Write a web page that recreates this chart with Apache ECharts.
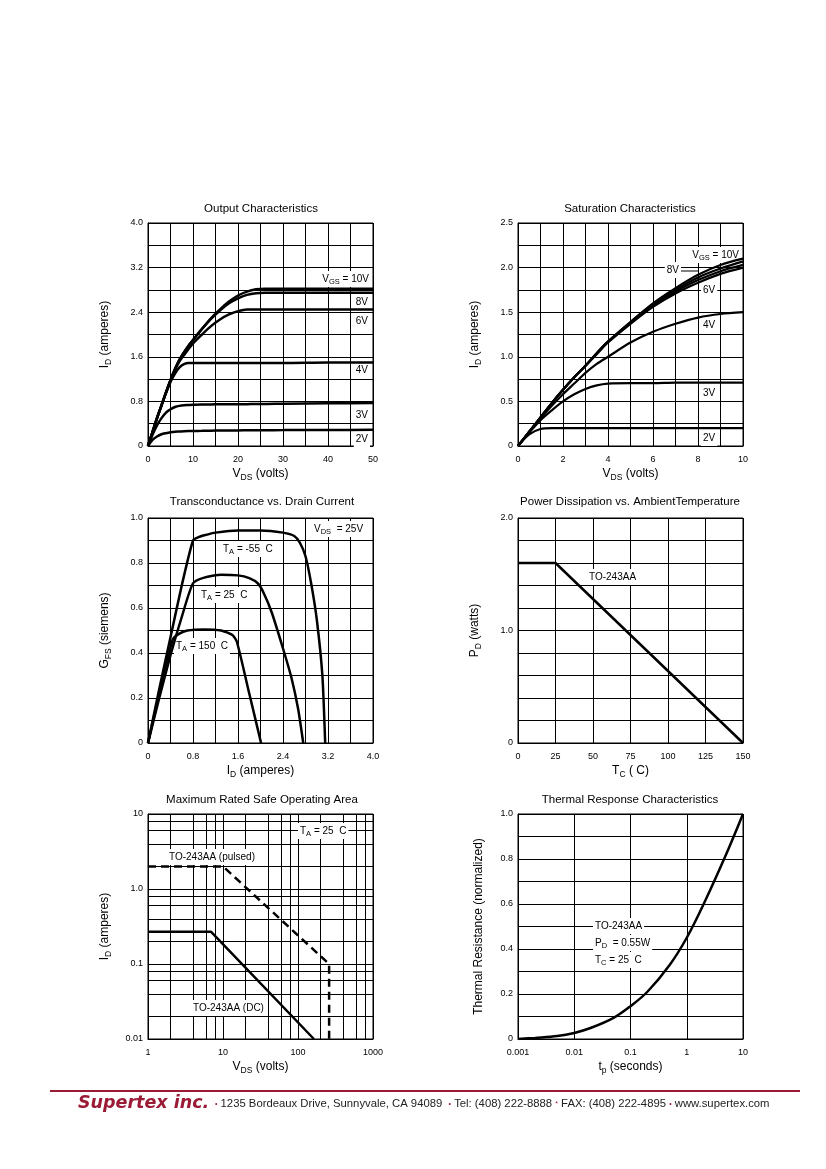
<!DOCTYPE html>
<html><head><meta charset="utf-8">
<script src="https://cdn.jsdelivr.net/npm/echarts@6/dist/echarts.min.js"></script>
<style>html,body{margin:0;padding:0;background:#fff}#c{width:826px;height:1169px}</style>
</head><body><div id="c"></div>
<script>
// ---------------- DATA ----------------
// Output Characteristics
const outVds  = [0,1,2,3,4,5,6,7,8,9,10,12,14,16,18,20,22,24,26,30,40,50];
const outId10 = [0,0.25,0.5,0.73,0.96,1.18,1.38,1.55,1.68,1.8,1.9,2.1,2.29,2.45,2.59,2.7,2.77,2.81,2.82,2.82,2.82,2.82];
const outId8  = [0,0.25,0.5,0.73,0.96,1.18,1.38,1.55,1.68,1.8,1.9,2.1,2.28,2.43,2.56,2.65,2.71,2.74,2.75,2.75,2.75,2.75];
const outId6  = [0,0.25,0.5,0.73,0.96,1.18,1.37,1.52,1.63,1.74,1.84,2.0,2.15,2.27,2.36,2.42,2.45,2.45,2.45,2.45,2.45,2.45];
const outId4  = [0,0.25,0.5,0.73,0.95,1.15,1.3,1.41,1.47,1.49,1.49,1.49,1.49,1.49,1.49,1.49,1.49,1.49,1.49,1.49,1.5,1.5];
const outId3  = [0,0.2,0.37,0.5,0.6,0.66,0.7,0.72,0.73,0.735,0.74,0.745,0.745,0.75,0.75,0.75,0.75,0.755,0.755,0.76,0.765,0.77];
const outId2  = [0,0.11,0.17,0.21,0.23,0.245,0.255,0.26,0.265,0.268,0.27,0.272,0.275,0.277,0.28,0.28,0.282,0.283,0.284,0.285,0.288,0.29];
const outXTicks = ['0','10','20','30','40','50'];
const outYTicks = ['0','0.8','1.6','2.4','3.2','4.0'];

// Saturation Characteristics
const satVds  = [0,0.5,1,1.5,2,2.5,3,3.5,4,5,6,7,8,9,10];
const satId10 = [0,0.16,0.32,0.48,0.63,0.77,0.9,1.04,1.17,1.39,1.6,1.77,1.92,2.03,2.1];
const satId8  = [0,0.16,0.32,0.48,0.63,0.77,0.9,1.04,1.17,1.39,1.59,1.75,1.89,1.99,2.07];
const satId6  = [0,0.16,0.32,0.48,0.63,0.77,0.9,1.04,1.17,1.38,1.58,1.73,1.86,1.96,2.03];
const satId5  = [0,0.16,0.32,0.48,0.63,0.77,0.9,1.03,1.16,1.37,1.56,1.71,1.83,1.93,2.0];
const satId4  = [0,0.16,0.31,0.45,0.58,0.7,0.82,0.92,1.0,1.16,1.28,1.37,1.44,1.48,1.5];
const satId3  = [0,0.15,0.29,0.4,0.5,0.58,0.64,0.68,0.7,0.705,0.705,0.71,0.71,0.71,0.71];
const satId2  = [0,0.13,0.19,0.2,0.2,0.2,0.2,0.2,0.2,0.2,0.2,0.2,0.2,0.2,0.2];
const satXTicks = ['0','2','4','6','8','10'];
const satYTicks = ['0','0.5','1.0','1.5','2.0','2.5'];

// Transconductance vs. Drain Current
const gfsIdM55 = [0,0.2,0.4,0.6,0.8,0.9,1.0,1.2,1.6,2.0,2.4,2.6,2.7,2.8,2.9,3.0,3.1,3.15];
const gfsM55   = [0,0.24,0.47,0.7,0.9,0.915,0.923,0.935,0.945,0.945,0.935,0.92,0.89,0.83,0.71,0.55,0.3,0];
const gfsId25  = [0,0.2,0.4,0.6,0.8,1.0,1.3,1.6,1.8,1.95,2.05,2.2,2.4,2.55,2.67,2.76];
const gfs25    = [0,0.2,0.39,0.56,0.71,0.735,0.748,0.745,0.733,0.71,0.67,0.58,0.42,0.29,0.15,0];
const gfsId150 = [0,0.2,0.44,0.55,0.7,1.0,1.3,1.5,1.58,1.8,2.01];
const gfs150   = [0,0.22,0.46,0.485,0.5,0.505,0.5,0.48,0.45,0.22,0];
const gfsXTicks = ['0','0.8','1.6','2.4','3.2','4.0'];
const gfsYTicks = ['0','0.2','0.4','0.6','0.8','1.0'];

// Power Dissipation vs. Ambient Temperature
const pdTemp = [0,25,150];
const pdWatt = [1.6,1.6,0];
const pdXTicks = ['0','25','50','75','100','125','150'];
const pdYTicks = ['0','1.0','2.0'];

// Maximum Rated Safe Operating Area
const soaPulsedV = [1,10,260,260];
const soaPulsedI = [2.0,2.0,0.1,0.01];
const soaDcV = [1,6.9,163];
const soaDcI = [0.27,0.27,0.01];
const soaMinorX = [2,4,6,8,20,40,60,80,200,400,600,800];
const soaMinorY = [0.02,0.04,0.06,0.08,0.2,0.4,0.6,0.8,2,4,6,8];
const soaXTicks = ['1','10','100','1000'];
const soaYTicks = ['0.01','0.1','1.0','10'];

// Thermal Response Characteristics
const thTime = [0.001,0.002,0.005,0.01,0.02,0.05,0.1,0.2,0.5,1,2,5,10];
const thRes  = [0,0.005,0.013,0.027,0.05,0.094,0.146,0.21,0.33,0.45,0.6,0.82,1.0];
const thXTicks = ['0.001','0.01','0.1','1','10'];
const thYTicks = ['0','0.2','0.4','0.6','0.8','1.0'];

// ---------------- STYLE / BUILD ----------------
const F = '"Liberation Sans", Arial, Helvetica, sans-serif';
const BLACK = '#000';
const nameRich = {
  n: { fontSize: 12, fontFamily: F, color: BLACK, fill: BLACK, lineHeight: 16, verticalAlign: 'middle' },
  s: { fontSize: 8.5, fontFamily: F, color: BLACK, fill: BLACK, lineHeight: 16, verticalAlign: 'bottom' }
};
const lblRich = {
  n: { fontSize: 10, fontFamily: F, fill: BLACK, lineHeight: 14, verticalAlign: 'middle' },
  s: { fontSize: 7.5, fontFamily: F, fill: BLACK, lineHeight: 14, verticalAlign: 'bottom' }
};

function baseAxis(extra) {
  return Object.assign({
    axisLine: { show: true, onZero: false, lineStyle: { color: BLACK, width: 1 } },
    axisTick: { show: false },
    splitLine: { show: true, lineStyle: { color: BLACK, width: 1 } },
    nameLocation: 'middle',
    nameTextStyle: { fontSize: 12, fontFamily: F, color: BLACK, rich: nameRich }
  }, extra);
}
function valueAxis(grid, min, max, interval, minor, labels, name, gap, isX) {
  return baseAxis({
    type: 'value', gridIndex: grid, min: min, max: max, interval: interval,
    minorTick: { show: false, splitNumber: minor > 1 ? minor : 5 },
    minorSplitLine: { show: minor > 1, lineStyle: { color: BLACK, width: 1 } },
    axisLabel: { color: BLACK, fontSize: 9, fontFamily: F, margin: isX ? 9 : 5,
      formatter: v => { const s = labels[Math.round((v - min) / interval)]; return s == null ? '' : s; } },
    name: name, nameGap: gap
  });
}
function logAxis(grid, min, max, labels, name, gap, isX) {
  return baseAxis({
    type: 'log', logBase: 10, gridIndex: grid, min: min, max: max,
    minorSplitLine: { show: false },
    axisLabel: { color: BLACK, fontSize: 9, fontFamily: F, margin: isX ? 9 : 5,
      formatter: v => { const s = labels[Math.round(Math.log10(v / min))]; return s == null ? '' : s; } },
    name: name, nameGap: gap
  });
}
function pairs(xs, ys) { return xs.map((x, i) => [x, ys[i]]); }
function curve(idx, xs, ys, extra) {
  return Object.assign({
    type: 'line', xAxisIndex: idx, yAxisIndex: idx, data: pairs(xs, ys),
    showSymbol: false, symbol: 'none', smooth: 0.3,
    lineStyle: { color: BLACK, width: 2.5 }, z: 3, silent: true
  }, extra || {});
}
function label(x, y, text, align, size) {
  return { type: 'text', x: x, y: y, z: 2, silent: true,
    style: { text: text, rich: lblRich, fontSize: size || 10, fontFamily: F, fill: BLACK,
      textAlign: align || 'left', textVerticalAlign: 'middle', backgroundColor: '#fff', padding: [1, 2] } };
}
function title(x, y, text) {
  return { type: 'text', x: x, y: y, z: 2, silent: true,
    style: { text: text, fontSize: 11.5, fontFamily: F, fill: BLACK, textAlign: 'center', textVerticalAlign: 'middle' } };
}

const nVDS = '{n|V}{s|DS}{n| (volts)}';
const nID  = '{n|I}{s|D}{n| (amperes)}';

const grids = [
  { left: 148, top: 223, width: 225, height: 223 },
  { left: 518, top: 223, width: 225, height: 223 },
  { left: 148, top: 518, width: 225, height: 225 },
  { left: 518, top: 518, width: 225, height: 225 },
  { left: 148, top: 814, width: 225, height: 225 },
  { left: 518, top: 814, width: 225, height: 225 }
].map(g => Object.assign({ show: true, borderColor: BLACK, borderWidth: 1, backgroundColor: 'transparent' }, g));

const satStyle = { lineStyle: { color: BLACK, width: 2.2 } };

const option = {
  animation: false,
  backgroundColor: '#fff',
  grid: grids,
  xAxis: [
    valueAxis(0, 0, 50, 10, 2, outXTicks, nVDS, 20, true),
    valueAxis(1, 0, 10, 2, 2, satXTicks, nVDS, 20, true),
    valueAxis(2, 0, 4, 0.8, 2, gfsXTicks, nID, 20, true),
    valueAxis(3, 0, 150, 25, 1, pdXTicks, '{n|T}{s|C}{n| ( C)}', 20, true),
    logAxis(4, 1, 1000, soaXTicks, nVDS, 20, true),
    logAxis(5, 0.001, 10, thXTicks, '{n|t}{s|p}{n| (seconds)}', 20, true)
  ],
  yAxis: [
    valueAxis(0, 0, 4, 0.8, 2, outYTicks, nID, 35, false),
    valueAxis(1, 0, 2.5, 0.5, 2, satYTicks, nID, 35, false),
    valueAxis(2, 0, 1, 0.2, 2, gfsYTicks, '{n|G}{s|FS}{n| (siemens)}', 35, false),
    valueAxis(3, 0, 2, 1, 5, pdYTicks, '{n|P}{s|D}{n| (watts)}', 35, false),
    logAxis(4, 0.01, 10, soaYTicks, nID, 35, false),
    valueAxis(5, 0, 1, 0.2, 2, thYTicks, '{n|Thermal Resistance (normalized)}', 31, false)
  ],
  series: [
    curve(0, outVds, outId10), curve(0, outVds, outId8), curve(0, outVds, outId6),
    curve(0, outVds, outId4), curve(0, outVds, outId3), curve(0, outVds, outId2),
    curve(1, satVds, satId10, satStyle), curve(1, satVds, satId8, satStyle),
    curve(1, satVds, satId6, satStyle), curve(1, satVds, satId5, satStyle),
    curve(1, satVds, satId4, satStyle), curve(1, satVds, satId3, satStyle),
    curve(1, satVds, satId2, satStyle),
    curve(2, gfsIdM55, gfsM55, { smooth: 0.2 }),
    curve(2, gfsId25, gfs25, { smooth: 0.2 }),
    curve(2, gfsId150, gfs150, { smooth: 0.2 }),
    curve(3, pdTemp, pdWatt, { smooth: false }),
    { type: 'line', xAxisIndex: 4, yAxisIndex: 4, data: [], silent: true, z: 1,
      markLine: { z: 1, silent: true, animation: false, symbol: ['none', 'none'], label: { show: false },
        lineStyle: { color: BLACK, width: 1, type: 'solid' }, emphasis: { disabled: true },
        data: soaMinorX.map(v => ({ xAxis: v })).concat(soaMinorY.map(v => ({ yAxis: v }))) } },
    curve(4, soaPulsedV, soaPulsedI, { smooth: false, lineStyle: { color: BLACK, width: 2.5, type: [8, 5] } }),
    curve(4, soaDcV, soaDcI, { smooth: false }),
    curve(5, thTime, thRes, { smooth: 0.35 })
  ],
  graphic: [
    title(261, 209, 'Output Characteristics'),
    title(630, 209, 'Saturation Characteristics'),
    title(262, 502, 'Transconductance vs. Drain Current'),
    title(630, 502, 'Power Dissipation vs. AmbientTemperature'),
    title(262, 800, 'Maximum Rated Safe Operating Area'),
    title(630, 800, 'Thermal Response Characteristics'),
    // output labels
    label(371, 279, '{n|V}{s|GS}{n| = 10V}', 'right'),
    label(370, 302, '{n|8V}', 'right'),
    label(370, 321, '{n|6V}', 'right'),
    label(370, 370, '{n|4V}', 'right'),
    label(370, 415, '{n|3V}', 'right'),
    label(370, 439, '{n|2V}', 'right'),
    // saturation labels
    label(741, 255, '{n|V}{s|GS}{n| = 10V}', 'right'),
    { type: 'line', z: 2, silent: true, shape: { x1: 680, y1: 271, x2: 698, y2: 271 }, style: { stroke: BLACK, lineWidth: 1 } },
    label(681, 270, '{n|8V}', 'right'),
    label(701, 290, '{n|6V}', 'left'),
    label(701, 325, '{n|4V}', 'left'),
    label(701, 393, '{n|3V}', 'left'),
    label(701, 438, '{n|2V}', 'left'),
    // transconductance labels
    label(312, 529, '{n|V}{s|DS}{n|  = 25V}', 'left'),
    label(221, 549, '{n|T}{s|A}{n| = -55  C}', 'left'),
    label(199, 595, '{n|T}{s|A}{n| = 25  C}', 'left'),
    label(174, 646, '{n|T}{s|A}{n| = 150  C}', 'left'),
    // power label
    label(587, 577, '{n|TO-243AA}', 'left'),
    // SOA labels
    label(298, 831, '{n|T}{s|A}{n| = 25  C}', 'left'),
    label(167, 857, '{n|TO-243AA (pulsed)}', 'left'),
    label(191, 1008, '{n|TO-243AA (DC)}', 'left'),
    // thermal labels
    label(593, 926, '{n|TO-243AA}', 'left'),
    label(593, 943, '{n|P}{s|D}{n|  = 0.55W}', 'left'),
    label(593, 960, '{n|T}{s|C}{n| = 25  C}', 'left'),
    // footer
    { type: 'line', silent: true, shape: { x1: 50, y1: 1091, x2: 800, y2: 1091 }, style: { stroke: '#9b1b36', lineWidth: 2 } },
    { type: 'text', x: 78, y: 1103, silent: true,
      style: { text: 'Supertex inc.', fontSize: 17.5, fontWeight: 'bold', fontStyle: 'italic', fontFamily: '"DejaVu Sans", sans-serif',
        fill: '#9b1b36', textAlign: 'left', textVerticalAlign: 'middle' } },
    { type: 'text', x: 215, y: 1104, silent: true,
      style: { text: '{r|•} 1235 Bordeaux Drive, Sunnyvale, CA 94089  {r|•} Tel: (408) 222-8888 {r|*} FAX: (408) 222-4895 {r|•} www.supertex.com',
        fontSize: 11.3, fontFamily: F, fill: '#222', textAlign: 'left', textVerticalAlign: 'middle',
        rich: { r: { fontSize: 7, fontFamily: F, fill: '#9b1b36' } } } }
  ]
};

const chart = echarts.init(document.getElementById('c'), null, { renderer: 'canvas' });
chart.setOption(option);
</script>
</body></html>
